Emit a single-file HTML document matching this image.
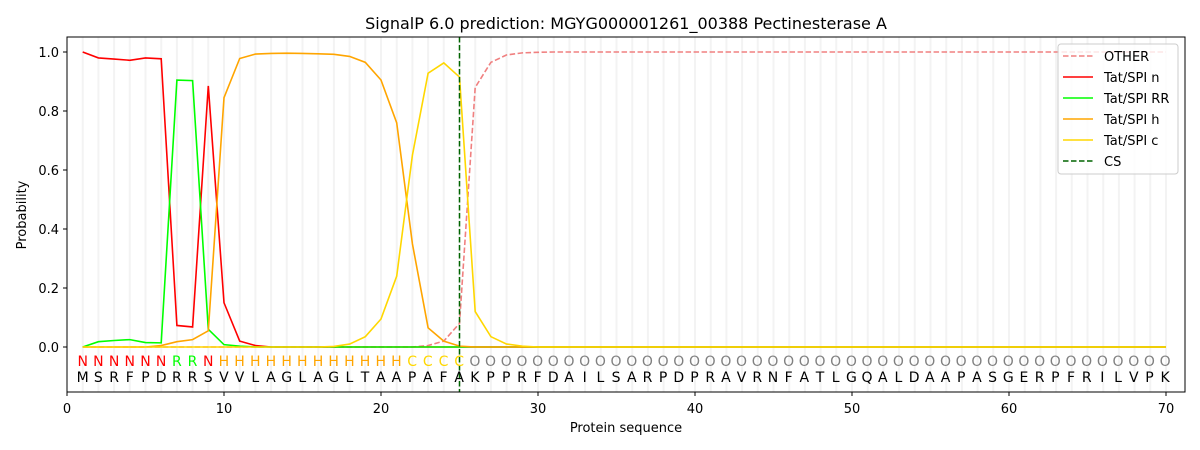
<!DOCTYPE html><html><head><style>
body{margin:0;background:#fff;width:1200px;height:450px;overflow:hidden;position:relative;font-family:"Liberation Sans","DejaVu Sans",sans-serif}
.row{position:absolute;left:74.85px;display:flex;font-size:14px;font-family:"DejaVu Sans","Liberation Sans",sans-serif}
.row span{width:15.7px;text-align:center;display:inline-block;flex:none}
.row span.o{color:#808080}
</style></head><body>
<svg id="s" width="1200" height="450" style="position:absolute;left:0;top:0" font-family="DejaVu Sans, Liberation Sans, sans-serif">
<g id="grid"></g>
<g id="lines" fill="none" stroke-width="1.6"></g>
<line x1="459.5" y1="37" x2="459.5" y2="392" stroke="#006400" stroke-width="1.5" stroke-dasharray="5.5,2.5"/>
<rect x="67" y="37" width="1118" height="355" fill="none" stroke="#000" stroke-width="1"/>
<g font-size="13" fill="#000" text-anchor="middle">
<text x="67" y="413">0</text><text x="224" y="413">10</text><text x="381" y="413">20</text><text x="538" y="413">30</text><text x="695" y="413">40</text><text x="852" y="413">50</text><text x="1009" y="413">60</text><text x="1166" y="413">70</text>
<text x="626" y="432">Protein sequence</text>
<text x="626" y="29" font-size="16">SignalP 6.0 prediction: MGYG000001261_00388 Pectinesterase A</text>
</g>
<g font-size="13" text-anchor="end">
<text x="59" y="352">0.0</text><text x="59" y="293">0.2</text><text x="59" y="234">0.4</text><text x="59" y="175">0.6</text><text x="59" y="116">0.8</text><text x="59" y="57">1.0</text>
</g>
<text transform="translate(26,215) rotate(-90)" font-size="13" text-anchor="middle">Probability</text>
<g stroke="#000"><path d="M67,392v4M224,392v4M381,392v4M538,392v4M695,392v4M852,392v4M1009,392v4M1166,392v4M67,347h-4M67,288h-4M67,229h-4M67,170h-4M67,111h-4M67,52h-4"/></g>
<g>
<rect x="1058" y="44" width="120" height="130" rx="3" fill="#fff" fill-opacity="0.8" stroke="#ccc"/>
<g stroke-width="1.5"><line x1="1063" y1="56" x2="1093" y2="56" stroke="#f08080" stroke-dasharray="5.5,2.5"/>
<line x1="1063" y1="77" x2="1093" y2="77" stroke="#ff0000"/>
<line x1="1063" y1="98" x2="1093" y2="98" stroke="#00ff00"/>
<line x1="1063" y1="119" x2="1093" y2="119" stroke="#ffa500"/>
<line x1="1063" y1="140" x2="1093" y2="140" stroke="#ffd700"/>
<line x1="1063" y1="161" x2="1093" y2="161" stroke="#006400" stroke-dasharray="5.5,2.5"/></g>
<g font-size="13"><text x="1104" y="61">OTHER</text><text x="1104" y="82">Tat/SPI n</text><text x="1104" y="103">Tat/SPI RR</text><text x="1104" y="124">Tat/SPI h</text><text x="1104" y="145">Tat/SPI c</text><text x="1104" y="166">CS</text></g>
</g>
</svg>
<div class="row" style="top:354px"><span style="color:#f00">N</span><span style="color:#f00">N</span><span style="color:#f00">N</span><span style="color:#f00">N</span><span style="color:#f00">N</span><span style="color:#f00">N</span><span style="color:#0f0">R</span><span style="color:#0f0">R</span><span style="color:#f00">N</span><span style="color:#ffa500">H</span><span style="color:#ffa500">H</span><span style="color:#ffa500">H</span><span style="color:#ffa500">H</span><span style="color:#ffa500">H</span><span style="color:#ffa500">H</span><span style="color:#ffa500">H</span><span style="color:#ffa500">H</span><span style="color:#ffa500">H</span><span style="color:#ffa500">H</span><span style="color:#ffa500">H</span><span style="color:#ffa500">H</span><span style="color:#ffd700">C</span><span style="color:#ffd700">C</span><span style="color:#ffd700">C</span><span style="color:#ffd700">C</span>
<span class="o">O</span><span class="o">O</span><span class="o">O</span><span class="o">O</span><span class="o">O</span>
<span class="o">O</span><span class="o">O</span><span class="o">O</span><span class="o">O</span><span class="o">O</span>
<span class="o">O</span><span class="o">O</span><span class="o">O</span><span class="o">O</span><span class="o">O</span>
<span class="o">O</span><span class="o">O</span><span class="o">O</span><span class="o">O</span><span class="o">O</span>
<span class="o">O</span><span class="o">O</span><span class="o">O</span><span class="o">O</span><span class="o">O</span>
<span class="o">O</span><span class="o">O</span><span class="o">O</span><span class="o">O</span><span class="o">O</span>
<span class="o">O</span><span class="o">O</span><span class="o">O</span><span class="o">O</span><span class="o">O</span>
<span class="o">O</span><span class="o">O</span><span class="o">O</span><span class="o">O</span><span class="o">O</span>
<span class="o">O</span><span class="o">O</span><span class="o">O</span><span class="o">O</span><span class="o">O</span>
</div>
<div class="row" style="top:370px;color:#000"><span>M</span><span>S</span><span>R</span><span>F</span><span>P</span><span>D</span><span>R</span><span>R</span><span>S</span><span>V</span><span>V</span><span>L</span><span>A</span><span>G</span><span>L</span><span>A</span><span>G</span><span>L</span><span>T</span><span>A</span><span>A</span><span>P</span><span>A</span><span>F</span><span>A</span><span>K</span><span>P</span><span>P</span><span>R</span><span>F</span><span>D</span><span>A</span><span>I</span><span>L</span><span>S</span><span>A</span><span>R</span><span>P</span><span>D</span><span>P</span><span>R</span><span>A</span><span>V</span><span>R</span><span>N</span><span>F</span><span>A</span><span>T</span><span>L</span><span>G</span><span>Q</span><span>A</span><span>L</span><span>D</span><span>A</span><span>A</span><span>P</span><span>A</span><span>S</span><span>G</span><span>E</span><span>R</span><span>P</span><span>F</span><span>R</span><span>I</span><span>L</span><span>V</span><span>P</span><span>K</span></div>
<script>
var X=i=>67+15.7*i,Y=v=>347-295*v,ns="http://www.w3.org/2000/svg";
var g=document.getElementById('grid');
for(var i=1;i<=70;i++){var l=document.createElementNS(ns,'line');l.setAttribute('x1',X(i));l.setAttribute('x2',X(i));l.setAttribute('y1',37);l.setAttribute('y2',392);l.setAttribute('stroke','#f3f3f3');l.setAttribute('stroke-width','2');g.appendChild(l);}
var other=[0,0,0,0,0,0,0,0,0,0,0,0,0,0,0,0,0,0,0,0,0,0,0.005,0.02,0.08,0.88,0.965,0.99,0.997,0.999];while(other.length<70)other.push(1);
var n=[1,0.98,0.976,0.972,0.98,0.977,0.073,0.068,0.885,0.15,0.02,0.005];while(n.length<70)n.push(0);
var rr=[0,0.018,0.022,0.025,0.015,0.014,0.905,0.903,0.06,0.008,0.003];while(rr.length<70)rr.push(0);
var h=[0,0,0,0,0,0.005,0.018,0.025,0.055,0.845,0.978,0.993,0.995,0.996,0.995,0.994,0.992,0.985,0.965,0.905,0.76,0.35,0.065,0.02,0.003];while(h.length<70)h.push(0);
var c=[0,0,0,0,0,0,0,0,0,0,0,0,0,0,0,0,0.002,0.01,0.035,0.095,0.24,0.65,0.928,0.963,0.915,0.12,0.035,0.01,0.003];while(c.length<70)c.push(0);
var L=document.getElementById('lines');
[[other,'#f08080','5.5,2.5'],[n,'#ff0000'],[rr,'#00ff00'],[h,'#ffa500'],[c,'#ffd700']].forEach(function(s){var p=document.createElementNS(ns,'polyline');p.setAttribute('points',s[0].map((v,i)=>X(i+1)+','+Y(v)).join(' '));p.setAttribute('stroke',s[1]);if(s[2])p.setAttribute('stroke-dasharray',s[2]);L.appendChild(p);});
</script>
</body></html>
